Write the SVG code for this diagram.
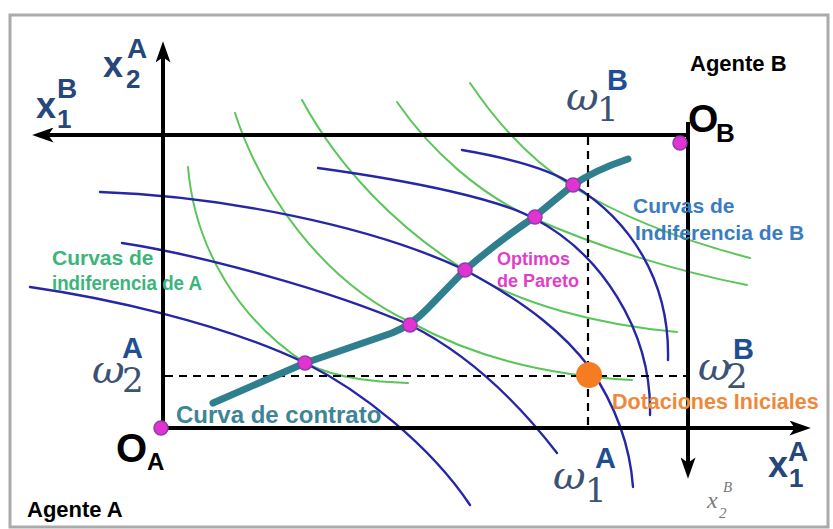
<svg xmlns="http://www.w3.org/2000/svg" width="833" height="529" viewBox="0 0 833 529">
<style>
.ax{stroke:#000;stroke-width:4;fill:none}
.dash{stroke:#000;stroke-width:2.2;stroke-dasharray:8 6;fill:none}
.bl{stroke:#2626a6;stroke-width:2.4;fill:none;stroke-linecap:round}
.gr{stroke:#5ac65a;stroke-width:2;fill:none;stroke-linecap:round}
.cc{stroke:#2f7f8e;stroke-width:7;fill:none;stroke-linecap:round;stroke-linejoin:round}
.pt{fill:#e033d2;stroke:#8a3fa8;stroke-width:1.5}
.sans{font-family:"Liberation Sans",Arial,sans-serif;font-weight:bold}
.om{font-family:"DejaVu Serif","Liberation Serif",serif;font-style:italic;font-size:40px;fill:#3b5272}
.dg{font-family:"DejaVu Serif","Liberation Serif",serif;font-size:34px;fill:#3b5272}
.sup{font-family:"Liberation Sans",Arial,sans-serif;font-weight:bold;font-size:29px;fill:#1f4f92}
.xv{font-family:"Liberation Sans",Arial,sans-serif;font-weight:bold;fill:#27477a}
</style>
<defs>
<marker id="arr" viewBox="0 0 20 14" markerWidth="22" markerHeight="15" refX="8" refY="7" orient="auto" markerUnits="userSpaceOnUse">
<path d="M0,0 L20,7 L0,14 L5,7 z" fill="#000"/>
</marker>
</defs>
<rect x="10" y="15" width="818" height="512" fill="#fff" stroke="#aaaaaa" stroke-width="3"/>

<g id="curves-green">
<path class="gr" d="M188,167 C195,250 240,320 305,363 C340,380 380,382 408,383"/>
<path class="gr" d="M235,113 C260,190 320,280 410,322 C470,355 540,375 632,380"/>
<path class="gr" d="M302,100 C340,170 400,230 465,270 C520,305 600,325 677,332"/>
<path class="gr" d="M397,102 C430,150 480,195 533,218 C600,248 680,272 747,285"/>
<path class="gr" d="M470,83 C495,120 530,160 573,187 C630,222 700,245 750,258"/>
</g>
<g id="curves-blue">
<path class="bl" d="M30,287 C100,297 220,322 305,363 C360,390 430,445 470,505"/>
<path class="bl" d="M122,243 C200,255 330,290 410,325 C470,355 520,405 557,453"/>
<path class="bl" d="M100,192 C220,196 370,225 465,270 C530,305 565,335 590,368 C615,405 630,445 633,487"/>
<path class="bl" d="M318,168 C420,182 500,200 533,218 C600,252 652,330 650,415"/>
<path class="bl" d="M462,150 C520,160 555,172 573,185 C630,220 670,280 668,360"/>
</g>

<g id="connectors">
<line class="dash" x1="588" y1="137" x2="588" y2="428"/>
<line class="dash" x1="165" y1="376" x2="686" y2="376"/>
<line class="ax" x1="163" y1="430" x2="163" y2="54" marker-end="url(#arr)"/>
<line class="ax" x1="686" y1="135" x2="45" y2="135" marker-end="url(#arr)"/>
<line class="ax" x1="161" y1="428" x2="798" y2="428" marker-end="url(#arr)"/>
<line class="ax" x1="688" y1="122" x2="688" y2="466" marker-end="url(#arr)"/>
</g>

<g id="contract-curve">
<path class="cc" d="M213,403 L305,363 L392,333 Q412,325 428,308 L465,270 Q500,240 533,218 L573,185 Q595,170 628,159"/>
</g>

<g id="points">
<circle class="pt" cx="305" cy="363" r="7"/>
<circle class="pt" cx="410" cy="325" r="7"/>
<circle class="pt" cx="465" cy="270" r="7"/>
<circle class="pt" cx="535" cy="217" r="7"/>
<circle class="pt" cx="573" cy="185" r="7"/>
<circle class="pt" cx="680" cy="143" r="7"/>
<circle class="pt" cx="161" cy="428" r="7"/>
<circle cx="589" cy="375" r="13" fill="#f57c20"/>
</g>

<g id="origin-labels">
<text class="sans" x="688" y="132" font-size="39" fill="#000">O</text>
<text class="sans" x="716" y="142" font-size="26" fill="#000">B</text>
<text class="sans" x="116" y="462" font-size="40" fill="#000">O</text>
<text class="sans" x="147" y="470" font-size="24" fill="#000">A</text>
<text class="sans" x="690" y="71" font-size="22" fill="#000">Agente B</text>
<text class="sans" x="27" y="517" font-size="22" fill="#000">Agente A</text>
</g>

<g id="axis-labels">
<text class="xv" x="103" y="77" font-size="36">x</text>
<text class="xv" x="126" y="88" font-size="26">2</text>
<text class="xv" x="127" y="58" font-size="28">A</text>
<text class="xv" x="36" y="118" font-size="36">x</text>
<text class="xv" x="57" y="128" font-size="26">1</text>
<text class="xv" x="57" y="98" font-size="28">B</text>
<text class="xv" x="768" y="477" font-size="36">x</text>
<text class="xv" x="789" y="487" font-size="26">1</text>
<text class="xv" x="788" y="461" font-size="28">A</text>
<text x="707" y="508" font-family="Liberation Serif,serif" font-style="italic" font-size="24" fill="#7a7a7a">x</text>
<text x="719" y="518" font-family="Liberation Serif,serif" font-style="italic" font-size="15" fill="#7a7a7a">2</text>
<text x="723" y="492" font-family="Liberation Serif,serif" font-style="italic" font-size="15" fill="#7a7a7a">B</text>
</g>

<g id="endowment-labels">
<text class="om" x="566" y="110">ω</text>
<text class="dg" x="597" y="121">1</text>
<text class="sup" x="607" y="90">B</text>
<text class="om" x="92" y="383">ω</text>
<text class="dg" x="122" y="392">2</text>
<text class="sup" x="122" y="358">A</text>
<text class="om" x="698" y="380">ω</text>
<text class="dg" x="726" y="388">2</text>
<text class="sup" x="733" y="359">B</text>
<text class="om" x="553" y="489">ω</text>
<text class="dg" x="585" y="502">1</text>
<text class="sup" x="595" y="468">A</text>
</g>

<g id="legend-labels">
<text class="sans" x="176" y="423" font-size="24" fill="#3d8595">Curva de contrato</text>
<text class="sans" x="612" y="409" font-size="21.5" fill="#f0883a">Dotaciones Iniciales</text>
<text class="sans" x="633" y="213" font-size="21" fill="#3a7cc0">Curvas de</text>
<text class="sans" x="635" y="240" font-size="21" fill="#3a7cc0">Indiferencia de B</text>
<text class="sans" x="52" y="265" font-size="21" fill="#3db57a">Curvas de</text>
<text class="sans" x="52" y="290" font-size="20" fill="#3db57a" textLength="150" lengthAdjust="spacingAndGlyphs">indiferencia de A</text>
<text class="sans" x="497" y="265" font-size="18" fill="#e040c8">Optimos</text>
<text class="sans" x="497" y="287" font-size="18" fill="#e040c8">de Pareto</text>
</g>
</svg>
